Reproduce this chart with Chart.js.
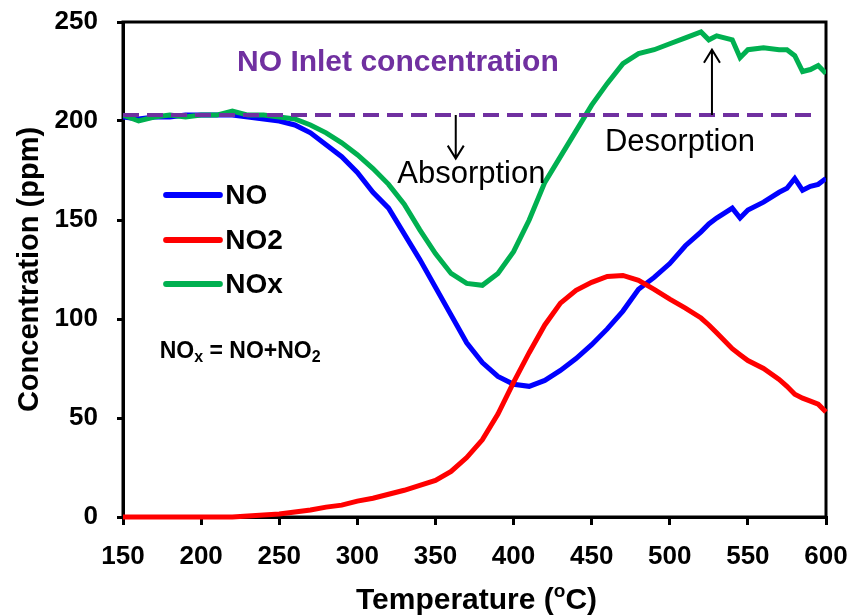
<!DOCTYPE html>
<html>
<head>
<meta charset="utf-8">
<script src="https://cdn.jsdelivr.net/npm/chart.js@4.4.1/dist/chart.umd.min.js"></script>
<style>
  body { margin: 0; background: #fff; }
  #wrap { width: 853px; height: 616px; }
</style>
</head>
<body>
<div id="wrap"><canvas id="noxChart" width="853" height="616"></canvas></div>
<script>
// temperatures (oC) shared by the three measured curves
const temps = [150, 160, 170, 180, 190, 200, 210, 220, 230, 240, 250, 260, 270, 280, 290,
  300, 310, 320, 330, 340, 350, 360, 370, 380, 390, 400, 410, 420, 430, 440, 450, 460,
  470, 480, 490, 500, 510, 520, 525, 530, 540, 545, 550, 560, 570, 575, 580, 585, 590, 595, 600];

const noValues = [202, 201, 202, 202, 203, 203, 203, 203, 202, 201, 200, 198, 194, 188, 182,
  174, 164, 156, 143, 130, 116, 102, 88, 78, 71, 67, 66, 69, 74, 80, 87, 95,
  104, 115, 121, 128, 137, 144, 148, 151, 156, 151, 155, 159, 164, 166, 171, 165, 167, 168, 171];

const no2Values = [0, 0, 0, 0, 0, 0, 0, 0, 0.5, 1, 1.5, 2.5, 3.5, 5, 6,
  8, 9.5, 11.5, 13.5, 16, 18.5, 23, 30, 39, 52, 68, 83, 97, 108, 114.5, 118.5, 121.5,
  122, 119.5, 115, 110, 105.5, 100.5, 97, 93, 85, 82, 79, 75, 69.5, 66, 62, 60, 58.5, 57, 53];

const noxValues = [203, 200, 202, 203, 202, 203, 203, 205, 203, 203, 202, 201, 198, 194, 189,
  183, 176, 168, 158, 145, 133, 123, 118, 117, 123, 134, 150, 169, 182, 195, 208, 219,
  229, 234, 236, 239, 242, 245, 241, 243, 241, 232, 236, 237, 236, 236, 233, 225, 226, 228, 224];

const inletTemps = [150, 595];
const inletValues = [203, 203];

const xTicks = [150, 200, 250, 300, 350, 400, 450, 500, 550, 600];
const yTicks = [0, 50, 100, 150, 200, 250];

const seriesNames = ["NO", "NO2", "NOx"];
const seriesColors = ["#0000ff", "#ff0000", "#00b050"];
const purple = "#7030a0";
const FONT = "'Liberation Sans', Arial, sans-serif";

function toPoints(xs, ys) {
  return xs.map((t, i) => ({ x: t, y: ys[i] }));
}

// draws a run of text pieces, some raised or lowered (sub/superscripts)
function drawRich(ctx, parts, x, y) {
  let cx = x;
  parts.forEach((p) => {
    ctx.font = "bold " + p.size + "px " + FONT;
    ctx.fillText(p.text, cx, y + (p.shift || 0));
    cx += ctx.measureText(p.text).width;
  });
}

function richWidth(ctx, parts) {
  let w = 0;
  parts.forEach((p) => {
    ctx.font = "bold " + p.size + "px " + FONT;
    w += ctx.measureText(p.text).width;
  });
  return w;
}

function arrow(ctx, x, y1, y2) {
  const dir = y2 > y1 ? 1 : -1;
  ctx.beginPath();
  ctx.moveTo(x, y1);
  ctx.lineTo(x, y2);
  ctx.moveTo(x - 8, y2 - dir * 13);
  ctx.lineTo(x, y2);
  ctx.lineTo(x + 8, y2 - dir * 13);
  ctx.stroke();
}

const overlay = {
  id: "overlay",
  beforeDatasetsDraw(chart) {
    // frame around the plot, under the curves
    const ctx = chart.ctx;
    const area = chart.chartArea;
    ctx.save();
    ctx.strokeStyle = "#000";
    ctx.lineWidth = 3;
    ctx.strokeRect(area.left, area.top, area.right - area.left, area.bottom - area.top);
    ctx.restore();
  },
  afterDatasetsDraw(chart) {
    const ctx = chart.ctx;
    const xs = chart.scales.x;
    const ys = chart.scales.y;
    const area = chart.chartArea;
    const px = (v) => xs.getPixelForValue(v);
    const py = (v) => ys.getPixelForValue(v);
    ctx.save();

    // title inside plot
    ctx.fillStyle = purple;
    ctx.textBaseline = "middle";
    ctx.textAlign = "left";
    ctx.font = "bold 30px " + FONT;
    ctx.fillText("NO Inlet concentration", px(223), py(229.5));

    // arrows and labels
    ctx.strokeStyle = "#000";
    ctx.lineWidth = 2;
    arrow(ctx, px(363), py(203), py(181));
    arrow(ctx, px(527), py(203), py(236));
    ctx.fillStyle = "#000";
    ctx.textAlign = "center";
    ctx.font = "31px " + FONT;
    ctx.fillText("Absorption", px(373), py(173));
    ctx.fillText("Desorption", px(506.5), py(189));

    // legend
    const legendY = [162.6, 139.9, 117.7];
    ctx.lineCap = "round";
    ctx.lineWidth = 6;
    ctx.textAlign = "left";
    ctx.font = "bold 28px " + FONT;
    seriesNames.forEach((name, i) => {
      ctx.strokeStyle = seriesColors[i];
      ctx.beginPath();
      ctx.moveTo(px(177.6), py(legendY[i]));
      ctx.lineTo(px(212), py(legendY[i]));
      ctx.stroke();
      ctx.fillStyle = "#000";
      ctx.fillText(name, px(215.5), py(legendY[i]) + 1);
    });

    // NOx = NO + NO2 note
    ctx.fillStyle = "#000";
    drawRich(ctx, [
      { text: "NO", size: 23 },
      { text: "x", size: 16, shift: 6 },
      { text: " = NO+NO", size: 23 },
      { text: "2", size: 16, shift: 6 }
    ], px(173.5), py(83.3));

    // x axis title with superscript
    const title = [
      { text: "Temperature (", size: 30 },
      { text: "o", size: 19, shift: -9 },
      { text: "C)", size: 30 }
    ];
    const w = richWidth(ctx, title);
    drawRich(ctx, title, (area.left + area.right) / 2 - w / 2 + 2, 601);

    ctx.restore();
  }
};

const ctx = document.getElementById("noxChart").getContext("2d");
const chart = new Chart(ctx, {
  type: "line",
  data: {
    datasets: [
      {
        label: "NO Inlet concentration",
        data: toPoints(inletTemps, inletValues),
        borderColor: purple,
        borderWidth: 4,
        borderDash: [16, 8],
        pointRadius: 0,
        order: 0
      },
      {
        label: seriesNames[2],
        data: toPoints(temps, noxValues),
        borderColor: seriesColors[2],
        borderWidth: 5,
        pointRadius: 0,
        order: 1
      },
      {
        label: seriesNames[1],
        data: toPoints(temps, no2Values),
        borderColor: seriesColors[1],
        borderWidth: 5,
        pointRadius: 0,
        clip: false,
        order: 2
      },
      {
        label: seriesNames[0],
        data: toPoints(temps, noValues),
        borderColor: seriesColors[0],
        borderWidth: 5,
        pointRadius: 0,
        order: 3
      }
    ]
  },
  options: {
    responsive: false,
    animation: false,
    devicePixelRatio: 1,
    layout: { padding: { top: 22, right: 27, left: 0, bottom: 0 } },
    plugins: {
      legend: { display: false },
      tooltip: { enabled: false }
    },
    scales: {
      x: {
        type: "linear",
        min: 150,
        max: 600,
        afterFit: (scale) => {
          scale.height = 99;
          scale.paddingLeft = 0;
          scale.paddingRight = 0;
        },
        afterBuildTicks: (scale) => { scale.ticks = xTicks.map((v) => ({ value: v })); },
        border: { color: "#000", width: 3 },
        grid: { drawOnChartArea: false, color: "#000", tickLength: 8, lineWidth: 3 },
        ticks: {
          color: "#000",
          padding: 16,
          maxRotation: 0,
          font: { family: FONT, size: 26, weight: "bold" }
        },
        title: { display: false }
      },
      y: {
        min: 0,
        max: 250,
        afterFit: (scale) => {
          scale.width = 123;
          scale.paddingTop = 0;
          scale.paddingBottom = 0;
        },
        afterBuildTicks: (scale) => { scale.ticks = yTicks.map((v) => ({ value: v })); },
        border: { color: "#000", width: 3 },
        grid: { drawOnChartArea: false, color: "#000", tickLength: 6, lineWidth: 3 },
        ticks: {
          color: "#000",
          padding: 19,
          font: { family: FONT, size: 26, weight: "bold" }
        },
        title: {
          display: true,
          text: "Concentration (ppm)",
          color: "#000",
          padding: { top: 15, bottom: 0 },
          font: { family: FONT, size: 29, weight: "bold", lineHeight: 1 }
        }
      }
    }
  },
  plugins: [overlay]
});
</script>
</body>
</html>
